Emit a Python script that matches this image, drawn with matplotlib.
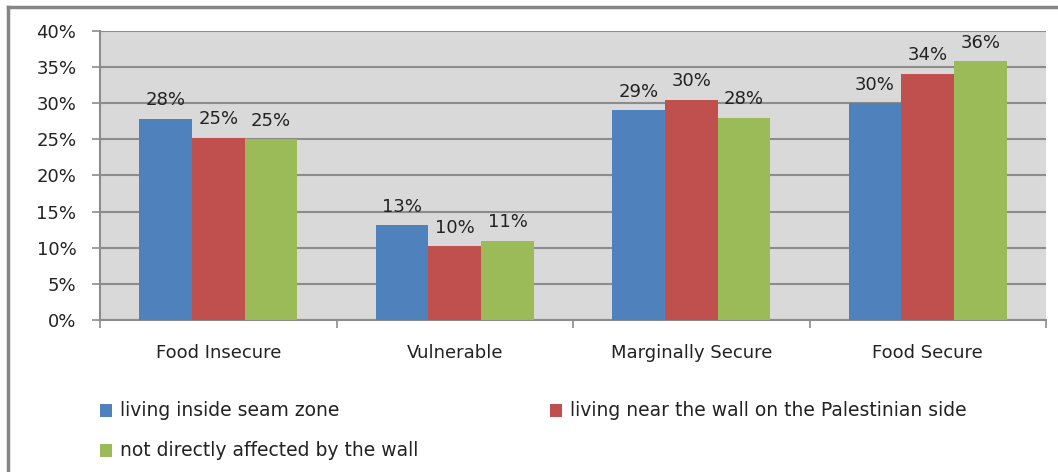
import matplotlib
matplotlib.use("Agg")
import matplotlib.pyplot as plt
from matplotlib.patches import Rectangle
from matplotlib.lines import Line2D
import numpy as np

categories = ["Food Insecure", "Vulnerable", "Marginally Secure", "Food Secure"]
series_names = ["living inside seam zone",
                "living near the wall on the Palestinian side",
                "not directly affected by the wall"]
seam_zone = [27.8, 13.1, 29.0, 30.0]
near_wall = [25.2, 10.2, 30.5, 34.1]
not_affected = [25.0, 11.0, 28.0, 35.8]
seam_labels = ["28%", "13%", "29%", "30%"]
near_labels = ["25%", "10%", "30%", "34%"]
not_labels = ["25%", "11%", "28%", "36%"]
yticks = [0, 5, 10, 15, 20, 25, 30, 35, 40]
ytick_labels = ["0%", "5%", "10%", "15%", "20%", "25%", "30%", "35%", "40%"]

colors = ["#4f81bd", "#c0504d", "#9bbb59"]
grid_c = "#8c8c8c"
txt_c = "#222222"
fs = 13

plt.rcParams['font.family'] = ['DejaVu Sans']
W, H = 1058, 472
fig = plt.figure(figsize=(W / 100, H / 100), dpi=100)

ax = fig.add_axes([100 / W, 1 - 320 / H, (1046 - 100) / W, (320 - 31) / H])
ax.set_facecolor("#d9d9d9")

x = np.arange(len(categories))
bw = 0.223
all_vals = [seam_zone, near_wall, not_affected]
all_labels = [seam_labels, near_labels, not_labels]
for i, (vals, labs) in enumerate(zip(all_vals, all_labels)):
    bars = ax.bar(x + (i - 1) * bw, vals, width=bw, color=colors[i], zorder=3)
    for b, lab in zip(bars, labs):
        ax.annotate(lab, (b.get_x() + b.get_width() / 2, b.get_height()),
                    xytext=(0, 7), textcoords="offset points",
                    ha="center", va="bottom", fontsize=fs, color=txt_c,
                    annotation_clip=False, clip_on=False, zorder=4)

ax.set_xlim(-0.5, 3.5)
ax.set_ylim(0, 40)
ax.set_yticks(yticks)
ax.set_yticklabels(ytick_labels, fontsize=fs, color=txt_c)
ax.yaxis.grid(True, color=grid_c, linewidth=1.5, zorder=1)
ax.set_axisbelow(True)

ax.set_xticks(np.arange(-0.5, 4, 1))
ax.set_xticklabels([])
ax.set_xticks(x, minor=True)
ax.set_xticklabels(categories, minor=True, fontsize=fs, color=txt_c)
ax.tick_params(axis="x", which="minor", length=0, pad=17)
ax.tick_params(axis="x", which="major", length=6, color=grid_c, width=1.2)
ax.tick_params(axis="y", length=6, color=grid_c, width=1.2, pad=11)

for s in ["top", "right"]:
    ax.spines[s].set_visible(False)
for s in ["left", "bottom"]:
    ax.spines[s].set_color(grid_c)
    ax.spines[s].set_linewidth(1.5)

# outer chart frame
fig.add_artist(Line2D([8 / W, 8 / W], [0, 1 - 7 / H], color="#868686", linewidth=2.5,
                      transform=fig.transFigure))
fig.add_artist(Line2D([8 / W, 1], [1 - 7 / H, 1 - 7 / H], color="#868686", linewidth=2.5,
                      transform=fig.transFigure))

# legend (row-wise like the original)
legend_pos = [(100, 410), (550, 410), (100, 450)]
for (px, py), name, c in zip(legend_pos, series_names, colors):
    fig.add_artist(Rectangle((px / W, 1 - (py + 6.5) / H), 12 / W, 13 / H,
                             facecolor=c, edgecolor="none", transform=fig.transFigure))
    fig.text((px + 20) / W, 1 - py / H, name, fontsize=fs + 0.5, color=txt_c,
             ha="left", va="center")

fig.savefig("out.png", dpi=100)
